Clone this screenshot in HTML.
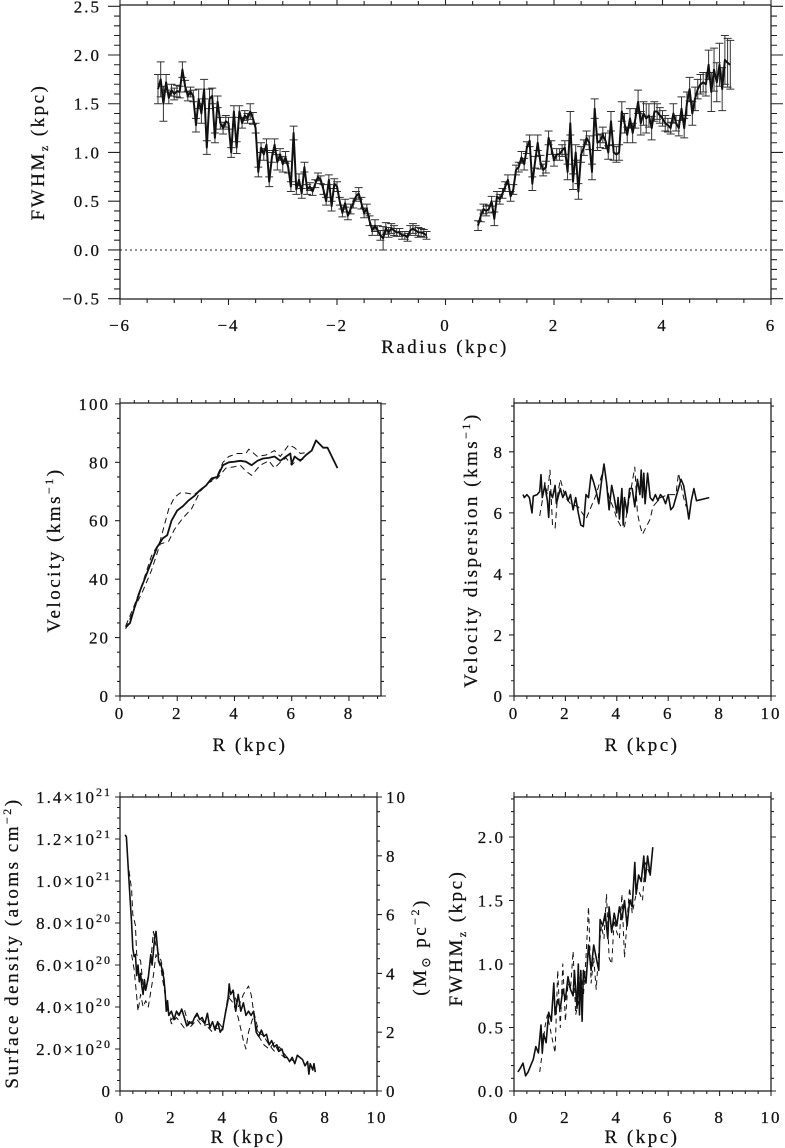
<!DOCTYPE html>
<html><head><meta charset="utf-8"><style>
html,body{margin:0;padding:0;background:#fff;}
svg{display:block;font-family:"Liberation Serif",serif;}
text{fill:#111;stroke:#111;stroke-width:0.25px;letter-spacing:2px;}
text.t{letter-spacing:2.5px;}
</style></head><body>
<svg id="chart" width="785" height="1148" viewBox="0 0 785 1148" xmlns="http://www.w3.org/2000/svg">
<rect width="785" height="1148" fill="#fff"/>
<text class="t" transform="translate(44,152) rotate(-90)" text-anchor="middle" font-size="19">FWHM<tspan font-size="12" dy="4">z</tspan><tspan dy="-4"> (kpc)</tspan></text>
<text class="t" x="445" y="353" text-anchor="middle" font-size="19">Radius (kpc)</text>
<text class="t" transform="translate(60,550) rotate(-90)" text-anchor="middle" font-size="19">Velocity (kms<tspan font-size="12" dy="-7">−1</tspan><tspan dy="7">)</tspan></text>
<text class="t" x="250" y="751" text-anchor="middle" font-size="19">R (kpc)</text>
<text class="t" transform="translate(477,550) rotate(-90)" text-anchor="middle" font-size="19">Velocity dispersion (kms<tspan font-size="12" dy="-7">−1</tspan><tspan dy="7">)</tspan></text>
<text class="t" x="642" y="751" text-anchor="middle" font-size="19">R (kpc)</text>
<text class="t" transform="translate(18,943) rotate(-90)" text-anchor="middle" font-size="19">Surface density (atoms cm<tspan font-size="12" dy="-7">−2</tspan><tspan dy="7">)</tspan></text>
<text class="t" transform="translate(426,947) rotate(-90)" text-anchor="middle" font-size="19">(M<tspan font-size="12" dy="4">⊙</tspan><tspan dy="-4"> pc</tspan><tspan font-size="12" dy="-7">−2</tspan><tspan dy="7">)</tspan></text>
<text class="t" x="248" y="1143" text-anchor="middle" font-size="19">R (kpc)</text>
<text class="t" transform="translate(462,938) rotate(-90)" text-anchor="middle" font-size="19">FWHM<tspan font-size="12" dy="4">z</tspan><tspan dy="-4"> (kpc)</tspan></text>
<text class="t" x="642" y="1143" text-anchor="middle" font-size="19">R (kpc)</text>
</svg>
<script>
// ---- data ----
const leftR=[-5.30,-5.25,-5.20,-5.15,-5.10,-5.05,-5.00,-4.95,-4.90,-4.85,-4.80,-4.75,-4.70,-4.65,-4.60,-4.55,-4.50,-4.45,-4.40,-4.35,-4.30,-4.25,-4.20,-4.15,-4.10,-4.05,-4.00,-3.95,-3.90,-3.85,-3.80,-3.75,-3.70,-3.65,-3.60,-3.55,-3.50,-3.45,-3.40,-3.35,-3.30,-3.25,-3.20,-3.15,-3.10,-3.05,-3.00,-2.95,-2.90,-2.85,-2.80,-2.75,-2.70,-2.65,-2.60,-2.55,-2.50,-2.45,-2.40,-2.35,-2.30,-2.25,-2.20,-2.15,-2.10,-2.05,-2.00,-1.95,-1.90,-1.85,-1.80,-1.75,-1.70,-1.65,-1.60,-1.55,-1.50,-1.45,-1.40,-1.35,-1.30,-1.25,-1.20,-1.15,-1.10,-1.05,-1.00,-0.95,-0.90,-0.85,-0.80,-0.75,-0.70,-0.65,-0.60,-0.55,-0.50,-0.45,-0.40,-0.35];
const leftW=[1.65,1.75,1.50,1.72,1.56,1.64,1.60,1.63,1.62,1.85,1.68,1.58,1.62,1.58,1.28,1.55,1.40,1.65,1.05,1.55,1.58,1.15,1.52,1.30,1.25,1.32,1.30,1.00,1.42,1.05,1.42,1.30,1.38,1.35,1.42,1.35,1.25,0.80,1.05,0.98,1.08,0.70,0.95,1.08,0.90,0.98,0.88,0.95,0.85,0.65,1.20,0.62,0.72,0.58,0.85,0.62,0.65,0.60,0.68,0.75,0.72,0.62,0.50,0.72,0.45,0.68,0.65,0.50,0.38,0.48,0.35,0.42,0.48,0.55,0.58,0.48,0.38,0.42,0.30,0.20,0.25,0.20,0.15,0.12,0.22,0.18,0.22,0.20,0.18,0.18,0.15,0.15,0.13,0.20,0.22,0.20,0.18,0.18,0.17,0.15];
const leftE=[0.15,0.18,0.18,0.08,0.06,0.06,0.06,0.06,0.06,0.08,0.06,0.05,0.05,0.06,0.07,0.1,0.1,0.1,0.07,0.1,0.08,0.05,0.06,0.06,0.06,0.06,0.06,0.05,0.06,0.06,0.06,0.05,0.05,0.05,0.08,0.06,0.05,0.05,0.05,0.06,0.06,0.05,0.05,0.06,0.08,0.06,0.08,0.06,0.06,0.05,0.07,0.05,0.06,0.05,0.05,0.05,0.04,0.04,0.04,0.04,0.04,0.05,0.04,0.05,0.05,0.05,0.05,0.04,0.04,0.04,0.04,0.05,0.05,0.05,0.06,0.06,0.05,0.05,0.05,0.05,0.06,0.05,0.05,0.12,0.06,0.05,0.05,0.05,0.04,0.04,0.04,0.04,0.04,0.05,0.05,0.05,0.05,0.04,0.04,0.04];
const rightR=[0.60,0.65,0.70,0.75,0.80,0.85,0.90,0.95,1.00,1.05,1.10,1.15,1.20,1.25,1.30,1.35,1.40,1.45,1.50,1.55,1.60,1.65,1.70,1.75,1.80,1.85,1.90,1.95,2.00,2.05,2.10,2.15,2.20,2.25,2.30,2.35,2.40,2.45,2.50,2.55,2.60,2.65,2.70,2.75,2.80,2.85,2.90,2.95,3.00,3.05,3.10,3.15,3.20,3.25,3.30,3.35,3.40,3.45,3.50,3.55,3.60,3.65,3.70,3.75,3.80,3.85,3.90,3.95,4.00,4.05,4.10,4.15,4.20,4.25,4.30,4.35,4.40,4.45,4.50,4.55,4.60,4.65,4.70,4.75,4.80,4.85,4.90,4.95,5.00,5.05,5.10,5.15,5.20,5.25];
const rightW=[0.25,0.35,0.42,0.40,0.42,0.50,0.32,0.55,0.52,0.58,0.65,0.72,0.55,0.62,0.82,0.85,0.95,0.88,1.05,1.12,0.68,0.90,1.10,0.90,0.82,0.85,1.15,1.05,0.92,0.98,0.98,1.02,1.05,0.80,1.30,0.70,1.00,0.60,0.98,1.05,1.15,1.10,0.80,1.45,1.10,1.12,1.18,1.12,1.00,1.32,1.00,0.98,1.00,1.42,1.30,1.18,1.35,1.20,1.35,1.52,1.30,1.40,1.35,1.38,1.25,1.42,1.42,1.38,1.35,1.30,1.28,1.25,1.40,1.30,1.25,1.45,1.25,1.50,1.65,1.40,1.55,1.65,1.70,1.72,1.70,1.90,1.62,1.85,1.72,1.90,1.65,1.95,1.92,1.90];
const rightE=[0.05,0.06,0.05,0.05,0.04,0.05,0.07,0.05,0.05,0.05,0.05,0.05,0.05,0.05,0.05,0.05,0.06,0.06,0.06,0.06,0.07,0.06,0.08,0.07,0.06,0.06,0.07,0.07,0.06,0.06,0.06,0.06,0.07,0.08,0.12,0.08,0.08,0.08,0.08,0.08,0.07,0.07,0.08,0.1,0.08,0.07,0.08,0.08,0.07,0.1,0.08,0.08,0.08,0.1,0.1,0.08,0.1,0.1,0.1,0.12,0.12,0.12,0.15,0.12,0.12,0.1,0.08,0.08,0.08,0.08,0.07,0.06,0.1,0.08,0.08,0.12,0.1,0.12,0.12,0.12,0.12,0.1,0.1,0.1,0.12,0.15,0.2,0.22,0.2,0.22,0.22,0.25,0.25,0.25];

const velR=[0.2,0.35,0.5,0.7,0.9,1.1,1.3,1.5,1.65,1.8,2.0,2.2,2.4,2.6,2.8,3.0,3.2,3.4,3.6,3.8,4.0,4.2,4.4,4.6,4.8,5.0,5.2,5.4,5.6,5.8,5.95,6.0,6.1,6.3,6.5,6.7,6.85,7.0,7.1,7.25,7.4,7.6];
const velV=[23.5,25,30,36,41,46,51,54,55,60,63.5,65,67,68.5,70.5,72,74.5,75,79,80,80.2,80.5,80.2,79,80.5,81.3,81.5,82,80.5,82,83,79.5,82,80.5,82.5,84,87.5,86,85,85,82,78];
const velAR=[0.2,0.5,0.8,1.1,1.4,1.7,1.9,2.1,2.3,2.6,3.0,3.4,3.6,3.8,4.1,4.4,4.5,4.8,5.1,5.4,5.6,5.9,6.1,6.3,6.6];
const velAV=[24,31,39,48,53,64,68,69.5,69.5,69,72,75.5,80,82,83,83,84.5,82,82.5,84,82,86,85,83,83.5];
const velBR=[0.2,0.5,0.8,1.1,1.4,1.7,1.9,2.2,2.5,2.8,3.1,3.4,3.7,4.0,4.2,4.4,4.6,4.9,5.2,5.4,5.6,5.8,6.0,6.2,6.5];
const velBV=[23,30,36,43,52,53,57,61,64,70,73,74.5,78,78.5,79,77,75.5,79,80.5,78,80,81.5,79,81,81];

const dispR=[0.35,0.4,0.5,0.6,0.7,0.75,0.9,1.0,1.05,1.1,1.2,1.3,1.35,1.4,1.5,1.6,1.65,1.8,1.9,2.0,2.1,2.2,2.3,2.4,2.5,2.6,2.7,2.8,2.9,3.0,3.1,3.2,3.3,3.4,3.5,3.6,3.7,3.8,3.9,4.0,4.05,4.1,4.2,4.25,4.3,4.4,4.5,4.6,4.7,4.8,4.9,4.95,5.0,5.05,5.1,5.2,5.3,5.4,5.5,5.6,5.7,5.8,5.9,6.0,6.1,6.2,6.3,6.4,6.5,6.6,6.7,6.8,6.9,7.0,7.1,7.6];
const dispS=[6.6,6.5,6.6,6.5,6.0,6.55,6.6,6.7,7.25,6.5,6.9,6.4,5.85,6.7,6.5,6.9,6.3,6.8,6.5,6.7,6.4,6.6,6.1,6.5,6.0,5.6,5.55,6.6,6.5,7.25,7.0,6.7,6.3,7.0,7.6,7.0,6.1,6.9,6.5,6.0,6.5,5.8,6.8,5.6,6.5,6.0,6.8,6.8,6.2,7.1,6.6,7.4,6.5,7.3,6.3,7.3,6.5,6.4,6.6,6.4,6.6,6.5,6.3,6.6,6.1,6.2,6.5,6.8,7.1,6.9,6.4,5.8,6.4,6.8,6.4,6.5];
const dispAR=[1.0,1.1,1.2,1.3,1.4,1.5,1.6,1.7,1.8,2.0,2.2,2.5,2.8,3.2,3.5,3.7,3.9,4.0,4.2,4.3,4.5,4.7,4.8,4.9,5.0,5.3,5.4,5.7,6.0,6.3,6.4,6.6,6.7];
const dispAS=[5.9,6.4,7.0,6.6,7.4,5.6,5.5,6.6,7.1,6.5,6.3,6.2,5.8,6.6,7.5,6.5,6.1,5.8,5.5,5.55,6.5,7.5,6.0,5.6,5.3,5.8,6.2,6.5,6.6,6.6,7.3,6.5,6.2];

const sdR=[0.2,0.25,0.35,0.45,0.5,0.55,0.6,0.65,0.7,0.75,0.8,0.85,0.9,0.95,1.0,1.1,1.2,1.25,1.35,1.4,1.5,1.6,1.7,1.75,1.8,1.85,1.9,2.0,2.1,2.2,2.3,2.4,2.5,2.6,2.7,2.8,2.9,3.0,3.1,3.2,3.3,3.4,3.5,3.6,3.7,3.8,3.9,4.0,4.1,4.2,4.25,4.3,4.4,4.5,4.6,4.7,4.8,4.9,5.0,5.1,5.2,5.3,5.4,5.5,5.6,5.7,5.8,5.9,6.0,6.1,6.2,6.3,6.4,6.5,6.6,6.7,6.8,6.9,7.0,7.1,7.2,7.3,7.35,7.4,7.5,7.55,7.6];
const sdN=[12.2,12.1,10.0,8.0,6.8,6.4,6.5,5.5,6.0,5.2,5.6,5.0,4.6,5.3,4.8,5.4,6.5,6.0,7.3,7.6,6.2,6.0,5.4,4.8,3.8,4.3,3.6,3.8,3.4,3.8,3.6,3.9,3.5,3.1,3.3,3.2,3.5,3.7,3.4,3.5,3.2,3.7,3.0,3.3,2.9,3.3,2.8,3.0,3.7,4.3,5.1,4.6,4.8,3.8,4.6,3.8,4.2,3.6,3.8,3.6,3.8,2.8,2.6,2.9,2.6,2.7,2.2,2.4,2.1,2.2,1.9,2.0,1.6,1.6,1.4,1.6,1.3,1.7,1.6,1.5,1.2,1.4,0.8,1.3,1.0,1.3,0.9];
const sdAR=[0.35,0.45,0.5,0.6,0.65,0.8,0.9,1.0,1.2,1.3,1.4,1.6,1.7,1.8,2.0,2.2,2.5,2.7,3.0,3.2,3.5,3.7,4.0,4.2,4.4,4.6,4.8,5.0,5.1,5.2,5.4,5.6,5.8,6.0,6.2,6.5,6.8];
const sdAN=[10.5,9.6,8.4,7.9,6.5,6.2,5.0,4.8,6.2,7.6,6.9,6.2,5.6,4.0,3.4,3.6,3.9,3.0,3.4,3.1,3.2,3.0,2.9,4.4,4.8,4.0,4.6,5.0,4.6,3.8,2.8,2.6,2.2,1.9,2.1,1.6,1.4];
const sdBR=[0.45,0.55,0.65,0.7,0.8,0.9,1.0,1.1,1.3,1.4,1.6,1.8,2.0,2.2,2.5,2.7,3.0,3.3,3.6,3.8,4.0,4.2,4.4,4.6,4.8,4.9,5.0,5.2,5.4,5.6,5.8,6.0,6.2,6.4];
const sdBN=[6.5,5.8,4.5,3.8,4.6,4.0,4.3,4.0,5.5,6.5,5.8,4.2,3.2,3.5,3.0,3.2,3.6,3.2,2.8,3.3,3.0,4.5,4.2,3.5,2.4,2.0,2.8,3.6,2.6,2.2,2.0,2.3,1.8,1.6];

const fwR=[0.15,0.25,0.35,0.45,0.55,0.65,0.75,0.85,0.95,1.05,1.1,1.15,1.25,1.35,1.45,1.55,1.6,1.7,1.8,1.9,2.0,2.1,2.2,2.3,2.35,2.45,2.5,2.55,2.6,2.65,2.7,2.8,2.9,3.0,3.1,3.2,3.3,3.35,3.45,3.55,3.65,3.7,3.8,3.9,4.0,4.1,4.2,4.3,4.4,4.5,4.6,4.7,4.75,4.85,4.95,5.05,5.1,5.2,5.3,5.4];
const fwW=[0.15,0.18,0.22,0.12,0.15,0.2,0.25,0.35,0.3,0.52,0.3,0.45,0.38,0.62,0.55,0.85,0.6,0.72,0.65,0.8,0.72,0.9,0.8,0.75,0.95,0.65,1.0,0.6,0.95,0.55,0.95,0.85,1.15,0.95,1.15,1.05,0.95,1.35,1.3,1.4,1.2,1.45,1.25,1.4,1.3,1.45,1.35,1.5,1.3,1.5,1.45,1.8,1.55,1.7,1.65,1.85,1.65,1.85,1.7,1.92];
const fwAR=[1.0,1.1,1.2,1.3,1.5,1.6,1.7,1.8,1.9,2.0,2.1,2.2,2.3,2.4,2.5,2.6,2.7,2.8,2.9,3.0,3.1,3.2,3.3,3.4,3.5,3.6,3.7,3.8,3.9,4.0,4.1,4.2,4.3,4.4,4.5,4.6,4.7,4.8,5.0,5.1,5.3];
const fwAW=[0.15,0.3,0.5,0.6,0.4,0.3,0.95,0.5,1.0,0.55,0.85,0.8,1.1,0.6,0.7,0.95,0.75,1.05,1.45,0.85,1.05,0.8,1.1,1.3,1.2,1.55,1.05,1.0,1.35,1.25,1.2,1.55,1.05,1.35,1.6,1.4,1.5,1.6,1.5,1.8,1.7];

// tick label arrays
const topXTicks=[-6,-4,-2,0,2,4,6];
const topYTicks=[-0.5,0,0.5,1,1.5,2,2.5];
const velXTicks=[0,2,4,6,8];
const velYTicks=[0,20,40,60,80,100];
const dispXTicks=[0,2,4,6,8,10];
const dispYTicks=[0,2,4,6,8];
const sdXTicks=[0,2,4,6,8,10];
const sdYTicks=[0,2,4,6,8,10,12,14];
const sdYLabels=['0','2.0×10','4.0×10','6.0×10','8.0×10','1.0×10','1.2×10','1.4×10'];
const sdYExps=['','20','20','20','20','21','21','21'];
const sdRightTicks=[0,2,4,6,8,10];
const fwXTicks=[0,2,4,6,8,10];
const fwYTicks=[0,0.5,1,1.5,2];

// ---- drawing ----
const NS='http://www.w3.org/2000/svg';
const svg=document.getElementById('chart');
const FS=17;
function mk(tag,parent,attrs){const e=document.createElementNS(NS,tag);for(const k in attrs)e.setAttribute(k,attrs[k]);parent.appendChild(e);return e;}
function minus(s){return String(s).replace('-','−');}

function panel(name,c){
  const g=mk('g',svg,{});
  
  
  const sx=v=>c.L+(v-c.xmin)/(c.xmax-c.xmin)*(c.R-c.L);
  const sy=v=>c.B-(v-c.ymin)/(c.ymax-c.ymin)*(c.B-c.T);
  const fr=mk('rect',g,{x:c.L,y:c.T,width:c.R-c.L,height:c.B-c.T,fill:'none',stroke:'#222','stroke-width':1.3});
  
  
  const tk=mk('path',g,{fill:'none',stroke:'#222','stroke-width':1.1});
  
  
  let d='';
  const isMaj=(v,m)=>Math.abs(v/m-Math.round(v/m))<1e-6;
  for(let i=Math.ceil(c.xmin/c.xm-1e-9);i<=Math.floor(c.xmax/c.xm+1e-9);i++){
    const v=i*c.xm,x=sx(v),len=isMaj(v,c.xM)?c.hM:c.hm;
    d+=`M${x},${c.B}v${len}M${x},${c.T}v${-len}`;
  }
  for(let i=Math.ceil(c.ymin/c.ym-1e-9);i<=Math.floor(c.ymax/c.ym+1e-9);i++){
    const v=i*c.ym,y=sy(v),len=isMaj(v,c.yM)?c.vM:c.vm;
    d+=`M${c.L},${y}h${-len}`;
    if(!c.noRight)d+=`M${c.R},${y}h${len}`;
  }
  tk.setAttribute('d',d);
  return {g,sx,sy,c};
}
function xLabels(p,ticks,base){
  ticks.forEach(v=>{
    const t=mk('text',p.g,{x:p.sx(v),y:base,'text-anchor':'middle','font-size':FS});
    t.textContent=minus(v);
    
    
  });
}
function yLabels(p,ticks,fmt,xr){
  ticks.forEach(v=>{
    const t=mk('text',p.g,{x:xr,y:p.sy(v)+6,'text-anchor':'end','font-size':FS});
    t.textContent=minus(fmt(v));
    
    
  });
}
function line(p,xs,ys,name,w,dash){
  const pth=mk('path',p.g,{fill:'none',stroke:'#111','stroke-width':w,'stroke-linejoin':'round'});
  if(dash)pth.setAttribute('stroke-dasharray',dash);
  pth.setAttribute('d',xs.map((x,i)=>(i?'L':'M')+p.sx(x).toFixed(1)+','+p.sy(ys[i]).toFixed(1)).join(''));
  
  
}
function errs(p,xs,ys,es,name){
  let d='';
  xs.forEach((x,i)=>{const X=p.sx(x),a=p.sy(ys[i]-es[i]),b=p.sy(ys[i]+es[i]);d+=`M${X},${a}V${b}M${X-4},${a}h8M${X-4},${b}h8`;});
  const pth=mk('path',p.g,{fill:'none',stroke:'#333','stroke-width':1});
  pth.setAttribute('d',d);
  
  
}

// Panel 1
const p1=panel('fwhm-radius-panel',{L:120,R:771,T:5,B:299,xmin:-6,xmax:6,ymin:-0.503,ymax:2.513,xm:0.5,xM:2,ym:0.1,yM:0.5,hM:6,hm:4,vM:12,vm:6});
const zl=mk('line',p1.g,{x1:120,x2:771,y1:p1.sy(0),y2:p1.sy(0),stroke:'#222','stroke-width':1,'stroke-dasharray':'2,3'});


errs(p1,leftR,leftW,leftE,'error-bars-negative');
errs(p1,rightR,rightW,rightE,'error-bars-positive');
line(p1,leftR,leftW,'fwhm-line-negative',2);
line(p1,rightR,rightW,'fwhm-line-positive',2);
xLabels(p1,topXTicks,331);
yLabels(p1,topYTicks,v=>v.toFixed(1),101);

// Panel 2
const p2=panel('velocity-panel',{L:120,R:381,T:403,B:696,xmin:0,xmax:9.12,ymin:0,ymax:100.3,xm:0.5,xM:2,ym:5,yM:20,hM:5,hm:3,vM:5,vm:3});
line(p2,velAR,velAV,'velocity-approaching',1,'6,4');
line(p2,velBR,velBV,'velocity-receding',1,'6,4');
line(p2,velR,velV,'velocity-mean',1.8);
xLabels(p2,velXTicks,719);
yLabels(p2,velYTicks,v=>String(v),110);

// Panel 3
const p3=panel('dispersion-panel',{L:514,R:771,T:403,B:696,xmin:0,xmax:10,ymin:0,ymax:9.6,xm:0.5,xM:2,ym:0.5,yM:2,hM:5,hm:3,vM:5,vm:3});
line(p3,dispAR,dispAS,'dispersion-dashed',1,'6,4');
line(p3,dispR,dispS,'dispersion-mean',1.6);
xLabels(p3,dispXTicks,719);
yLabels(p3,dispYTicks,v=>String(v),504);

// Panel 4
const p4=panel('surface-density-panel',{L:120,R:377,T:797,B:1091,xmin:0,xmax:10,ymin:0,ymax:14,xm:0.5,xM:2,ym:0.5,yM:2,hM:5,hm:3,vM:5,vm:3,noRight:true});
(function(){
  let d='';
  const ry=v=>p4.c.B-v/10*(p4.c.B-p4.c.T);
  for(let i=0;i<=20;i++){const v=i*0.5;d+=`M377,${ry(v)}h${i%4===0?5:3}`;}
  const rt=mk('path',p4.g,{fill:'none',stroke:'#222','stroke-width':1.1,d:d});
  
  
  sdRightTicks.forEach(v=>{
    const t=mk('text',p4.g,{x:386,y:ry(v)+6,'font-size':FS});
    t.textContent=String(v);
    
    
  });
})();
line(p4,sdAR,sdAN,'surface-density-dashed-a',1,'6,4');
line(p4,sdBR,sdBN,'surface-density-dashed-b',1,'6,4');
line(p4,sdR,sdN,'surface-density-mean',1.6);
xLabels(p4,sdXTicks,1123);
sdYTicks.forEach((v,i)=>{
  const t=mk('text',p4.g,{x:112,y:p4.sy(v)+6,'text-anchor':'end','font-size':FS});
  t.textContent=sdYLabels[i];
  if(sdYExps[i]){const s=mk('tspan',t,{'font-size':12,dy:-7});s.textContent=sdYExps[i];}
  
  
});

// Panel 5
const p5=panel('fwhm-r-panel',{L:514,R:771,T:797,B:1091,xmin:0,xmax:10,ymin:0,ymax:2.315,xm:0.5,xM:2,ym:0.1,yM:0.5,hM:5,hm:3,vM:5,vm:3});
line(p5,fwAR,fwAW,'fwhm-dashed',1,'5,4');
line(p5,fwR,fwW,'fwhm-mean',1.6);
xLabels(p5,fwXTicks,1123);
yLabels(p5,fwYTicks,v=>v.toFixed(1),505);
</script>
</body></html>
